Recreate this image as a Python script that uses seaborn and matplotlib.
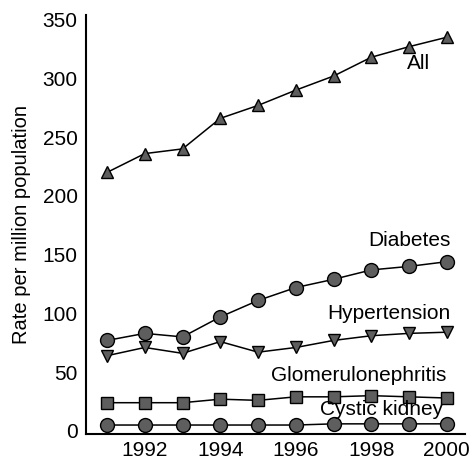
import pandas as pd
import matplotlib.pyplot as plt
import seaborn as sns

years = [1991, 1992, 1993, 1994, 1995, 1996, 1997, 1998, 1999, 2000]
all_causes = [220, 236, 240, 266, 277, 290, 302, 318, 327, 335]
diabetes = [77, 83, 80, 97, 111, 122, 129, 137, 140, 144]
hypertension = [64, 71, 66, 76, 67, 71, 77, 81, 83, 84]
glomerulonephritis = [24, 24, 24, 27, 26, 29, 29, 30, 29, 28]
cystic_kidney = [5, 5, 5, 5, 5, 5, 6, 6, 6, 6]

series = ["All", "Diabetes", "Hypertension", "Glomerulonephritis", "Cystic kidney"]
values = [all_causes, diabetes, hypertension, glomerulonephritis, cystic_kidney]
markers = ["^", "o", "v", "s", "o"]
sizes = [9, 10, 9, 8, 10]
label_pos = [(1999.55, 313), (2000.1, 162), (2000.1, 100), (2000.0, 47), (1999.9, 18)]

df = pd.concat([pd.DataFrame({"year": years, "rate": v, "cause": s})
                for s, v in zip(series, values)])

sns.set_style("white", {"text.color": "black", "axes.labelcolor": "black",
                        "xtick.color": "black", "ytick.color": "black"})
plt.rcParams["font.family"] = ["Liberation Sans", "DejaVu Sans"]

fig = plt.figure(figsize=(4.72, 4.67), dpi=100)
ax = fig.add_axes([0.182, 0.071, 0.803, 0.897])

for s, m, ms in zip(series, markers, sizes):
    sns.lineplot(data=df[df["cause"] == s], x="year", y="rate", ax=ax,
                 color="black", linewidth=1.1, marker=m, markersize=ms,
                 markerfacecolor="#5e5e5e", markeredgecolor="black",
                 markeredgewidth=1.0, legend=False)

for s, (x, y) in zip(series, label_pos):
    ax.text(x, y, s, ha="right", va="center", fontsize=15, color="black")

ax.set_xlim(1990.44, 2000.48)
ax.set_ylim(-2.5, 354)
ax.set_xticks([1992, 1994, 1996, 1998, 2000])
ax.set_yticks(range(0, 351, 50))
ax.tick_params(axis="both", labelsize=15, length=0, labelcolor="black")
ax.tick_params(axis="y", pad=6)
ax.tick_params(axis="x", pad=5)
ax.set_xlabel("")
ax.set_ylabel("Rate per million population", fontsize=14.5, labelpad=8,
              color="black")

sns.despine(ax=ax)
for sp in ["left", "bottom"]:
    ax.spines[sp].set_color("black")
    ax.spines[sp].set_linewidth(1.5)

fig.savefig("out.png", dpi=100)
